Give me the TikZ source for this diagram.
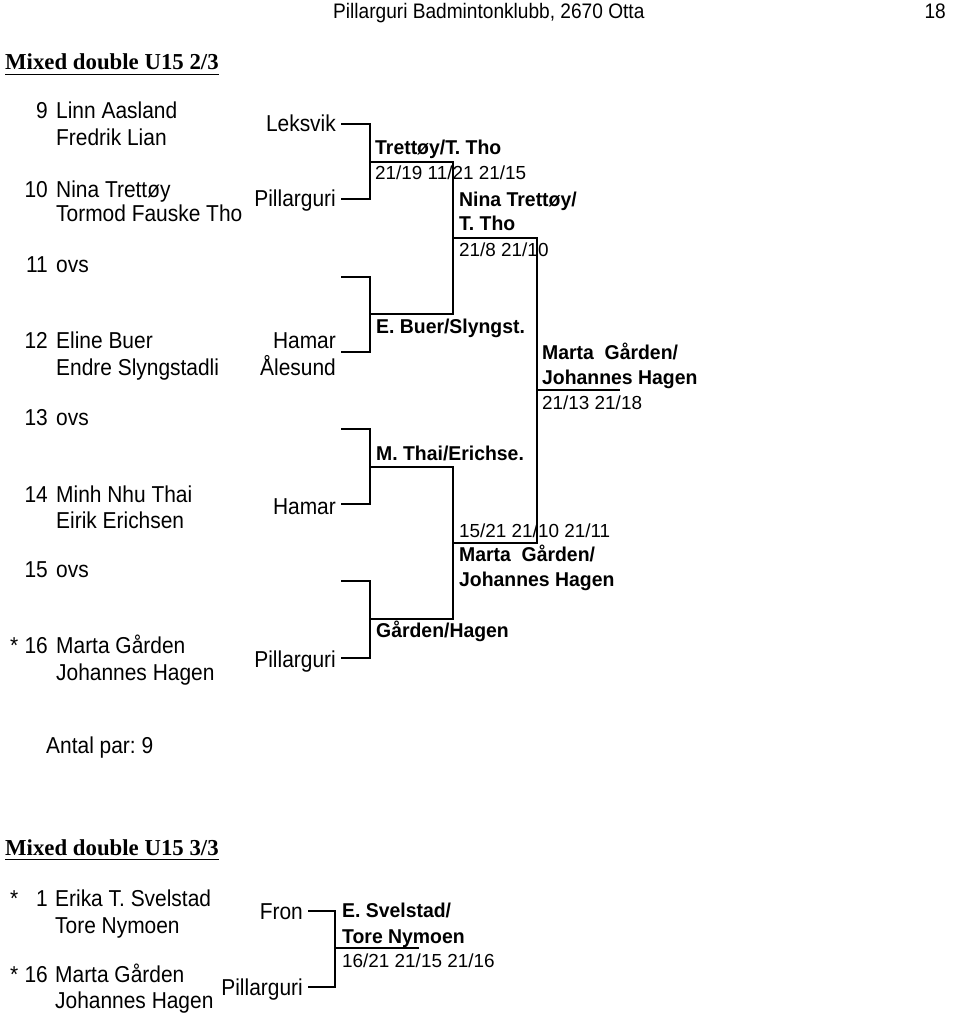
\documentclass[tikz,border=0pt]{standalone}
\usepackage{fontspec}
\setmainfont{Liberation Sans}
\newfontfamily\titlefont{Liberation Serif}
\newfontfamily\condfont[FakeStretch=0.91]{Liberation Sans}
\newfontfamily\bcondfont[FakeStretch=0.97]{Liberation Sans}
\frenchspacing
\begin{document}
\begin{tikzpicture}[x=1pt,y=-1pt,
  nm/.style={anchor=base west,inner sep=0pt,font=\fontsize{23}{27}\condfont},
  num/.style={anchor=base east,inner sep=0pt,font=\fontsize{23}{27}\condfont},
  star/.style={anchor=base west,inner sep=0pt,font=\fontsize{23}{27}\condfont},
  club/.style={anchor=base east,inner sep=0pt,font=\fontsize{23}{27}\condfont},
  win/.style={anchor=base west,inner sep=0pt,font=\fontsize{20}{24}\bcondfont\bfseries},
  score/.style={anchor=base west,inner sep=0pt,font=\fontsize{18.9}{23}\selectfont},
  ttl/.style={anchor=base west,inner sep=0pt,font=\fontsize{22.8}{27}\titlefont\bfseries},
  hdr/.style={inner sep=0pt,font=\fontsize{21}{25}\condfont},
  br/.style={line width=1.6pt}]
\useasboundingbox[fill=white] (0,0) rectangle (960,1016);

% header
\node[hdr,anchor=base west] (hdr) at (333,19) {Pillarguri Badmintonklubb, 2670 Otta};
\node[hdr,anchor=base east] (page) at (946,19) {18};

% title 1
\node[ttl] (t1) at (5,70) {Mixed double U15 2/3};
\draw[line width=1.2pt] ([yshift=-4.5pt]t1.base west) -- ([yshift=-4.5pt]t1.base east);

% entries
\node[num] (n9) at (48,119) {9};
\node[nm] (p9a) at (56,119) {Linn Aasland};
\node[nm] (p9b) at (56,146) {Fredrik Lian};
\node[num] (n10) at (48,198) {10};
\node[nm] (p10a) at (56,198) {Nina Trettøy};
\node[nm] (p10b) at (56,222) {Tormod Fauske Tho};
\node[num] (n11) at (48,272) {11};
\node[nm] (p11) at (56,272) {ovs};
\node[num] (n12) at (48,348) {12};
\node[nm] (p12a) at (56,348) {Eline Buer};
\node[nm] (p12b) at (56,375) {Endre Slyngstadli};
\node[num] (n13) at (48,425) {13};
\node[nm] (p13) at (56,425) {ovs};
\node[num] (n14) at (48,502) {14};
\node[nm] (p14a) at (56,502) {Minh Nhu Thai};
\node[nm] (p14b) at (56,528) {Eirik Erichsen};
\node[num] (n15) at (48,577) {15};
\node[nm] (p15) at (56,577) {ovs};
\node[star] (s16) at (10,653) {*};
\node[num] (n16) at (48,653) {16};
\node[nm] (p16a) at (56,653) {Marta Gården};
\node[nm] (p16b) at (56,680) {Johannes Hagen};

% clubs
\node[club] (c9) at (336,132) {Leksvik};
\node[club] (c10) at (336,207) {Pillarguri};
\node[club] (c12a) at (336,348) {Hamar};
\node[club] (c12b) at (336,375) {Ålesund};
\node[club] (c14) at (336,514) {Hamar};
\node[club] (c16) at (336,667) {Pillarguri};

% bracket coordinates
\coordinate (a1) at (341,124); \coordinate (a2) at (341,199);
\coordinate (b1) at (341,277); \coordinate (b2) at (341,352);
\coordinate (c1) at (341,429); \coordinate (c2) at (341,504);
\coordinate (d1) at (341,581); \coordinate (d2) at (341,658);
\coordinate (ma) at (370,162); \coordinate (mb) at (370,314);
\coordinate (mc) at (370,467); \coordinate (md) at (370,619);
\coordinate (ra) at (453,238); \coordinate (rb) at (453,543);
\coordinate (fin) at (537,390); \coordinate (finend) at (620,390);

\draw[br] (a1) -| (ma) |- (a2);
\draw[br] (b1) -| (mb) |- (b2);
\draw[br] (c1) -| (mc) |- (c2);
\draw[br] (d1) -| (md) |- (d2);
\draw[br] (ma) -| (ra) |- (mb);
\draw[br] (mc) -| (rb) |- (md);
\draw[br] (ra) -| (fin) |- (rb);
\draw[br] (fin) -- (finend);

% winners
\node[win] (w1) at (375,155) {Trettøy/T. Tho};
\node[score] (s1) at (375,180) {21/19 11/21 21/15};
\node[win] (w2a) at (459,207) {Nina Trettøy/};
\node[win] (w2b) at (459,231) {T. Tho};
\node[score] (s2) at (459,256) {21/8 21/10};
\node[win] (w3) at (376,333) {E. Buer/Slyngst.};
\node[win] (w4) at (376,460) {M. Thai/Erichse.};
\node[score] (s5) at (459,537) {15/21 21/10 21/11};
\node[win] (w5a) at (459,561) {Marta~~Gården/};
\node[win] (w5b) at (459,586) {Johannes Hagen};
\node[win] (w6) at (376,637) {Gården/Hagen};
\node[win] (w7a) at (542,359) {Marta~~Gården/};
\node[win] (w7b) at (542,384) {Johannes Hagen};
\node[score] (s7) at (542,409) {21/13 21/18};

\node[nm] (antal) at (46,753) {Antal par: 9};

% title 2
\node[ttl] (t2) at (5,855) {Mixed double U15 3/3};
\draw[line width=1.2pt] ([yshift=-4.5pt]t2.base west) -- ([yshift=-4.5pt]t2.base east);

\node[star] (s1a) at (10,906) {*};
\node[num] (m1) at (48,906) {1};
\node[nm] (q1a) at (55,906) {Erika T. Svelstad};
\node[nm] (q1b) at (55,933) {Tore Nymoen};
\node[star] (s16b) at (10,982) {*};
\node[num] (m16) at (48,982) {16};
\node[nm] (q16a) at (55,982) {Marta Gården};
\node[nm] (q16b) at (55,1008) {Johannes Hagen};

\node[club] (cf) at (303,919) {Fron};
\node[club] (cp) at (303,995) {Pillarguri};

\coordinate (e1) at (308,911); \coordinate (e2) at (308,987);
\coordinate (me) at (335,948); \coordinate (meend) at (419,948);
\draw[br] (e1) -| (me) |- (e2);
\draw[br] (me) -- (meend);

\node[win] (x1a) at (342,917) {E. Svelstad/};
\node[win] (x1b) at (342,943) {Tore Nymoen};
\node[score] (x1s) at (342,967) {16/21 21/15 21/16};
\end{tikzpicture}
\end{document}
